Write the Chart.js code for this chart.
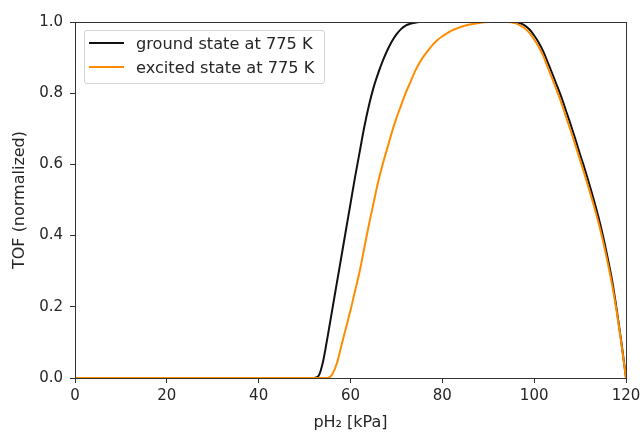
<!DOCTYPE html>
<html>
<head>
<meta charset="utf-8">
<script src="https://cdn.jsdelivr.net/npm/chart.js@4.4.1/dist/chart.umd.min.js"></script>
<style>
  html, body { margin: 0; padding: 0; background: #fff; }
  #wrap { position: relative; width: 640px; height: 433px; }
  #legend {
    position: absolute; left: 84px; top: 30px; width: 241px; height: 54px;
    border: 1px solid #d4d4d4; border-radius: 3px; background: rgba(255,255,255,0.8);
    font-family: "DejaVu Sans", sans-serif; font-size: 16.2px; color: #262626;
    box-sizing: border-box; padding-top: 0;
  }
  .item { display: flex; align-items: center; height: 24px; white-space: nowrap; }
  .swatch { width: 35px; height: 2px; margin-left: 4px; margin-right: 12px; }
</style>
</head>
<body>
<div id="wrap">
  <canvas id="grafico" width="640" height="433"></canvas>
  <div id="legend"></div>
</div>
<script>
// pH2 in kPa
const pressure = [0, 10, 20, 30, 40, 50, 51, 52, 53, 54, 55, 56, 57, 58, 59, 60,
  61, 62, 63, 64, 65, 66, 67, 68, 69, 70, 71, 72, 73, 74, 75, 76, 77, 78, 79, 80,
  81, 82, 83, 84, 85, 86, 87, 88, 89, 90, 91, 92, 93, 94, 95, 96, 97, 98, 99, 100,
  101, 102, 103, 104, 105, 106, 107, 108, 109, 110, 111, 112, 113, 114, 115, 116, 117, 118, 119, 120];

const groundTOF = [0, 0, 0, 0, 0, 0, 0, 0, 0.005, 0.045, 0.115, 0.19, 0.265, 0.34, 0.415, 0.49,
  0.565, 0.635, 0.705, 0.765, 0.815, 0.855, 0.89, 0.92, 0.945, 0.965, 0.98, 0.99, 0.995, 0.998, 1, 1, 1, 1, 1, 1,
  1, 1, 1, 1, 1, 1, 1, 1, 1, 1, 1, 1, 1, 1, 1, 0.999, 0.996, 0.99, 0.979, 0.962,
  0.942, 0.917, 0.885, 0.853, 0.82, 0.786, 0.748, 0.71, 0.67, 0.628, 0.588, 0.545, 0.5, 0.452, 0.398, 0.338, 0.272, 0.19, 0.1, 0];

const excitedTOF = [0, 0, 0, 0, 0, 0, 0, 0, 0, 0, 0, 0.01, 0.04, 0.09, 0.14, 0.19,
  0.245, 0.3, 0.365, 0.43, 0.49, 0.55, 0.6, 0.645, 0.69, 0.73, 0.765, 0.8, 0.83, 0.86, 0.885, 0.905, 0.922, 0.937, 0.95, 0.96,
  0.968, 0.976, 0.981, 0.986, 0.99, 0.993, 0.995, 0.997, 0.999, 1, 1, 1, 1, 1, 0.999, 0.996, 0.99, 0.982, 0.969, 0.951,
  0.93, 0.904, 0.871, 0.839, 0.805, 0.77, 0.731, 0.693, 0.653, 0.612, 0.571, 0.528, 0.484, 0.437, 0.384, 0.325, 0.26, 0.184, 0.096, 0];

const seriesLabels = ["ground state at 775 K", "excited state at 775 K"];
const seriesColors = ["#111111", "darkorange"];

const xTicks = [0, 20, 40, 60, 80, 100, 120];
const yTicks = [0, 0.2, 0.4, 0.6, 0.8, 1.0];

const tickFont = { family: "DejaVu Sans", size: 15 };
const titleFont = { family: "DejaVu Sans", size: 16 };
const ink = "#262626";

function pts(ys) {
  return pressure.map((x, i) => ({ x: x, y: ys[i] }));
}

// matplotlib style box round the axes
const frame = {
  id: "frame",
  afterDatasetsDraw(chart) {
    const a = chart.chartArea, c = chart.ctx;
    c.save();
    c.strokeStyle = "#333";
    c.lineWidth = 1;
    c.strokeRect(Math.round(a.left) + 0.5, Math.round(a.top) + 0.5,
      Math.round(a.right - a.left), Math.round(a.bottom - a.top));
    c.restore();
  }
};

document.addEventListener("DOMContentLoaded", () => {
  const ctx = document.getElementById("grafico").getContext("2d");
  new Chart(ctx, {
    type: "line",
    data: {
      datasets: [
        { label: seriesLabels[0], data: pts(groundTOF), borderColor: seriesColors[0], borderWidth: 2, order: 1 },
        { label: seriesLabels[1], data: pts(excitedTOF), borderColor: seriesColors[1], borderWidth: 2, order: 0 }
      ]
    },
    options: {
      responsive: false,
      animation: false,
      events: [],
      layout: { padding: { left: 0, top: 22, right: 14, bottom: 0 } },
      elements: { point: { radius: 0 }, line: { cubicInterpolationMode: "monotone", fill: false } },
      plugins: { legend: { display: false }, tooltip: { enabled: false } },
      scales: {
        x: {
          type: "linear", min: 0, max: 120,
          afterFit: s => { s.height = 55; s.paddingLeft = 0; s.paddingRight = 0; },
          afterBuildTicks: s => { s.ticks = xTicks.map(v => ({ value: v })); },
          ticks: { font: tickFont, color: ink, padding: 4, maxRotation: 0 },
          grid: { drawOnChartArea: false, tickLength: 5, color: "#333" },
          border: { color: "#333" },
          title: { display: true, text: "pH₂ [kPa]", font: titleFont, color: ink, padding: { top: 0, bottom: 1 } }
        },
        y: {
          min: 0, max: 1,
          afterFit: s => { s.width = 75; s.paddingTop = 0; s.paddingBottom = 0; },
          afterBuildTicks: s => { s.ticks = yTicks.map(v => ({ value: v })); },
          ticks: { font: tickFont, color: ink, padding: 7, callback: v => v.toFixed(1) },
          grid: { drawOnChartArea: false, tickLength: 5, color: "#333" },
          border: { color: "#333" },
          title: { display: true, text: "TOF (normalized)", font: titleFont, color: ink, padding: { top: 10, bottom: 0 } }
        }
      }
    },
    plugins: [frame]
  });

  const legend = document.getElementById("legend");
  legend.innerHTML = seriesLabels.map((t, i) => `
    <div class="item"><span class="swatch" style="background:${seriesColors[i]}"></span><span>${t}</span></div>
  `).join("");
});
</script>
</body>
</html>
